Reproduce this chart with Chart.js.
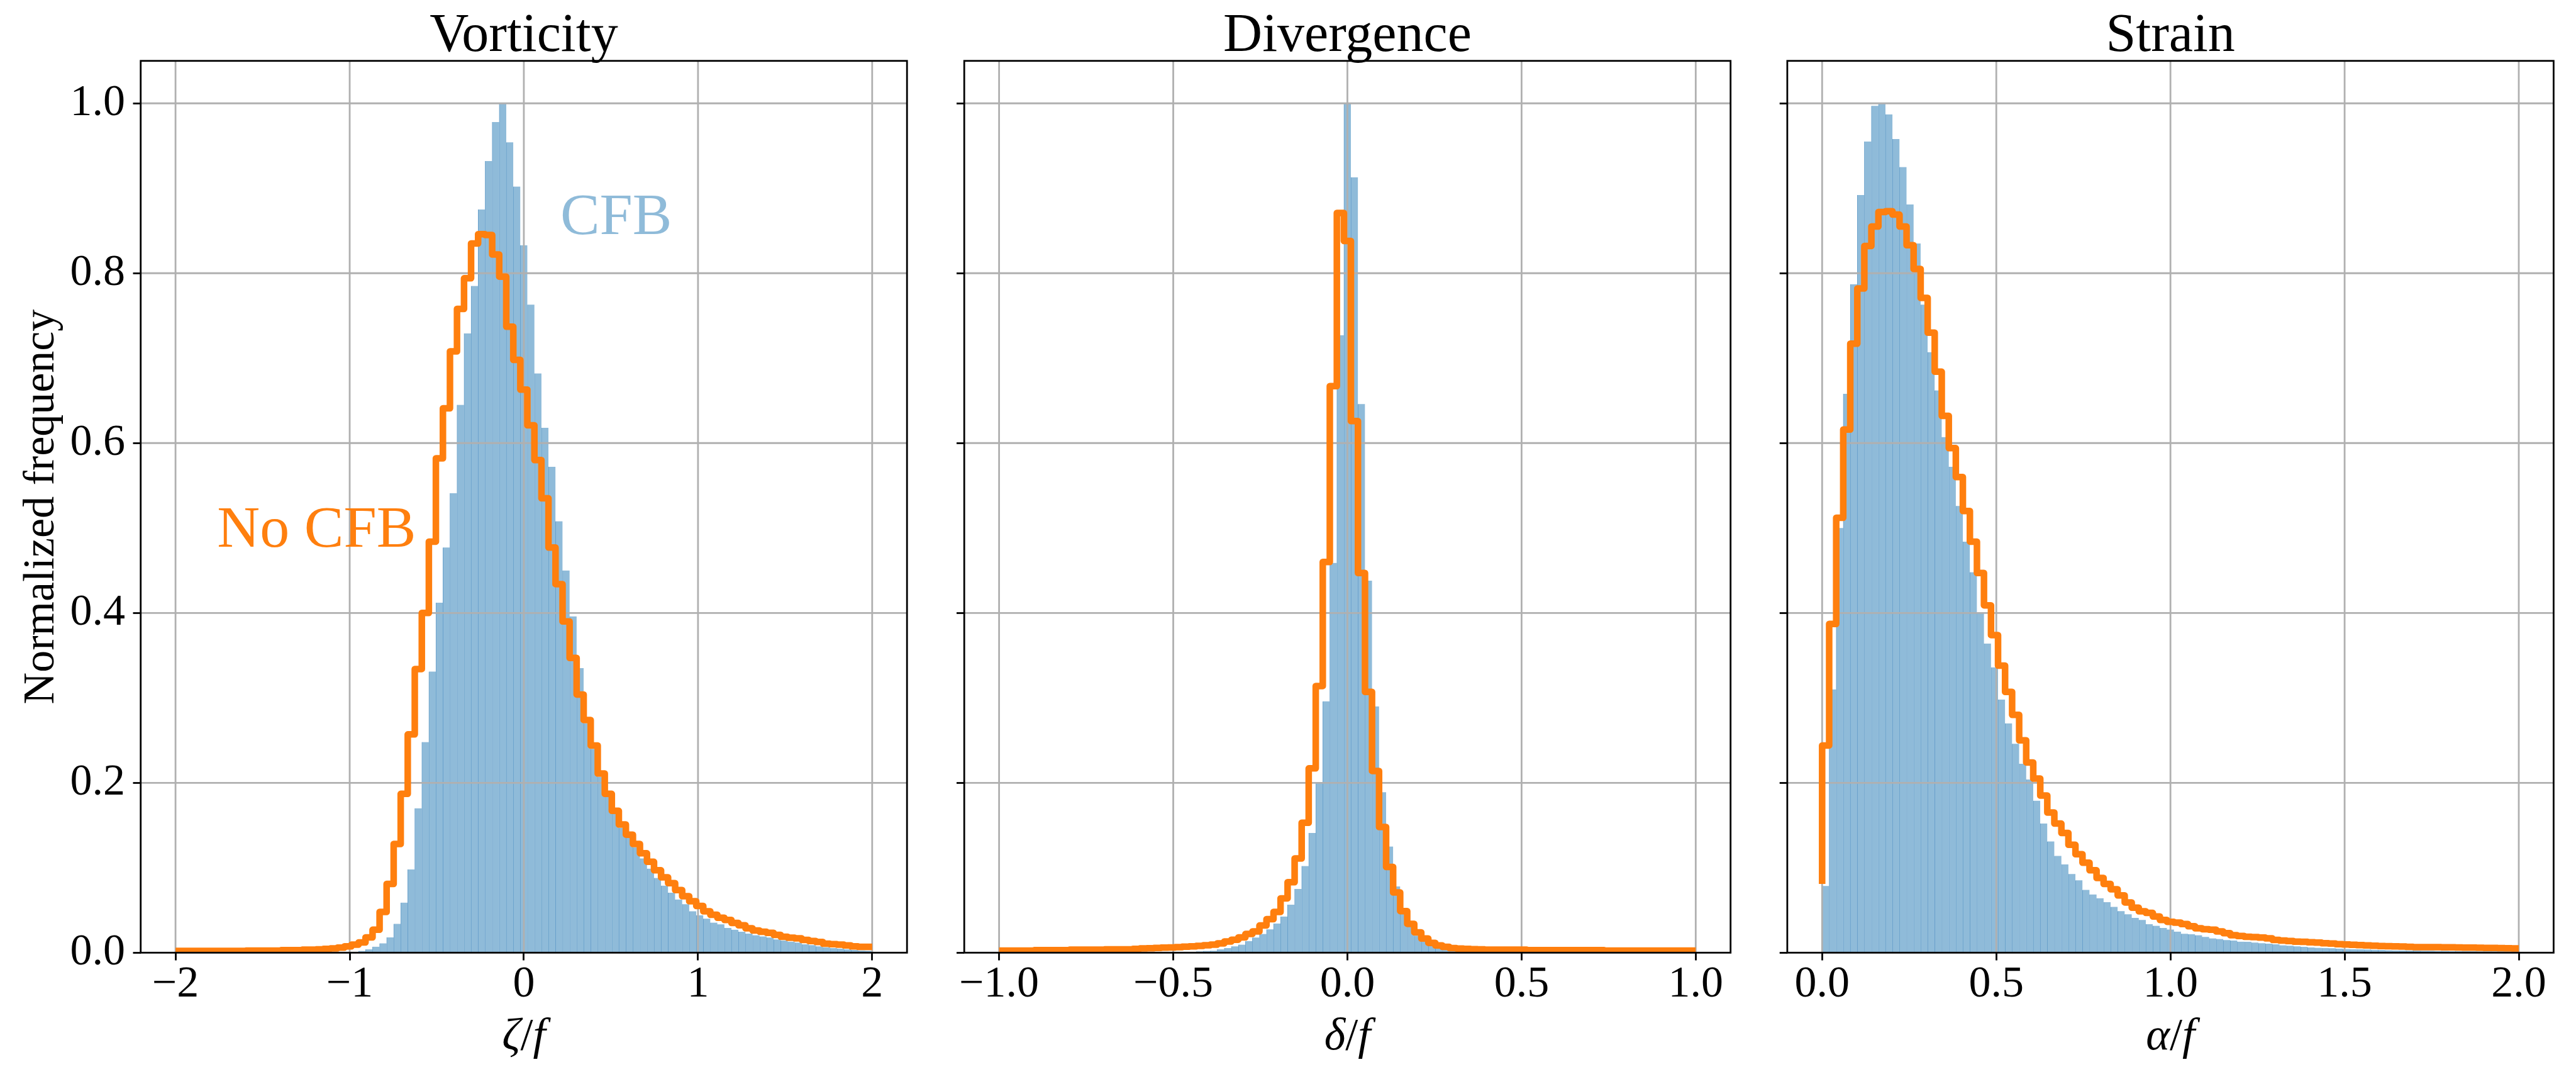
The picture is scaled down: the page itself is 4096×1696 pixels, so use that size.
<!DOCTYPE html>
<html>
<head>
<meta charset="utf-8">
<title>Vorticity, divergence and strain histograms</title>
<script src="https://cdn.jsdelivr.net/npm/chart.js@4.4.1/dist/chart.umd.min.js"></script>
<style>
  html, body { margin: 0; padding: 0; background: #fff; }
  #fig { position: relative; width: 4096px; height: 1696px; overflow: hidden; background: #fff; }
  #fig canvas { position: absolute; top: 0; }
</style>
</head>
<body>
<div id="fig">
  <canvas id="vort" width="1447" height="1696" style="left:0px"></canvas>
  <canvas id="div" width="1263" height="1696" style="left:1493px"></canvas>
  <canvas id="strain" width="1263" height="1696" style="left:2802px"></canvas>
</div>
<script>
// ---- data -----------------------------------------------------------------
// every panel uses 99 equal bins between the range limits
const nBins = 99;

const vortRange = [-2, 2];
const divRange = [-1, 1];
const strainRange = [0, 2];

const yTicks = [0, 0.2, 0.4, 0.6, 0.8, 1.0];
const yTickLabels = ['0.0', '0.2', '0.4', '0.6', '0.8', '1.0'];

const vortTicks = [-2, -1, 0, 1, 2];
const vortTickLabels = ['\u22122', '\u22121', '0', '1', '2'];
const divTicks = [-1, -0.5, 0, 0.5, 1];
const divTickLabels = ['\u22121.0', '\u22120.5', '0.0', '0.5', '1.0'];
const strainTicks = [0, 0.5, 1, 1.5, 2];
const strainTickLabels = ['0.0', '0.5', '1.0', '1.5', '2.0'];

// CFB run: one value per bin
const vortCfb = [
  0, 0, 0, 0, 0, 0, 0, 0, 0, 0, 0, 0, 0, 0, 0, 0, 0, 0, 0, 0, 0, 0, 0, 0,
  0.0005, 0.001, 0.002, 0.004, 0.007, 0.011, 0.018, 0.034, 0.059, 0.098,
  0.170, 0.248, 0.331, 0.412, 0.477, 0.541, 0.645, 0.729, 0.785, 0.875,
  0.932, 0.978, 1.000, 0.954, 0.902, 0.833, 0.763, 0.682, 0.618, 0.572,
  0.508, 0.450, 0.396, 0.335, 0.270, 0.240, 0.207, 0.184, 0.164, 0.147,
  0.137, 0.124, 0.111, 0.099, 0.088, 0.079, 0.0706, 0.0627, 0.0571, 0.0488,
  0.0441, 0.0401, 0.0354, 0.0333, 0.0292, 0.0271, 0.0246, 0.0225, 0.0205, 0.0192,
  0.0178, 0.0155, 0.0143, 0.0130, 0.0118, 0.0099, 0.0089, 0.0074, 0.0064, 0.0054,
  0.0048, 0.0039, 0.0031, 0.0027, 0.0023
];
const divCfb = [
  0, 0, 0, 0, 0, 0, 0, 0, 0, 0, 0, 0, 0, 0, 0, 0, 0, 0, 0, 0, 0, 0, 0, 0, 0, 0,
  0.0008, 0.001, 0.0015, 0.002, 0.0023, 0.0039, 0.0054, 0.0074, 0.0095, 0.0137,
  0.0178, 0.022, 0.0275, 0.0343, 0.0426, 0.0565, 0.075, 0.102, 0.141, 0.2005,
  0.296, 0.459, 0.727, 1.000, 0.913, 0.646, 0.438, 0.290, 0.189, 0.125,
  0.078, 0.049, 0.031, 0.020, 0.014, 0.009, 0.006, 0.004, 0.003, 0.002,
  0.0015, 0.0012, 0.001, 0.0008, 0.0005, 0.0005, 0.0005,
  0, 0, 0, 0, 0, 0, 0, 0, 0, 0, 0, 0, 0, 0, 0, 0, 0, 0, 0, 0, 0, 0, 0, 0, 0, 0
];
const strainCfb = [
  0.0786, 0.310, 0.500, 0.658, 0.787, 0.892, 0.955, 0.997, 1.000, 0.987,
  0.958, 0.925, 0.881, 0.835, 0.763, 0.707, 0.662, 0.607, 0.572, 0.526,
  0.484, 0.448, 0.400, 0.364, 0.336, 0.298, 0.270, 0.246, 0.2225, 0.204,
  0.179, 0.152, 0.131, 0.114, 0.104, 0.0926, 0.0853, 0.0740, 0.0686, 0.0642,
  0.0595, 0.0540, 0.0490, 0.0453, 0.0410, 0.0385, 0.0335, 0.0317, 0.0292, 0.0273,
  0.0248, 0.0223, 0.0217, 0.0205, 0.0186, 0.0168, 0.0161, 0.0149, 0.0143, 0.0130,
  0.0128, 0.0118, 0.0112, 0.0106, 0.0099, 0.0087, 0.0081, 0.0074, 0.0068, 0.0062,
  0.0058, 0.0056, 0.0052, 0.0048, 0.0043, 0.0041, 0.0039, 0.0037, 0.0033, 0.0031,
  0.0029, 0.0027, 0.0026, 0.0025, 0.0024, 0.0023, 0.0022, 0.0021, 0.0020, 0.0019,
  0.0018, 0.0018, 0.0017, 0.0016, 0.0016, 0.0015, 0.0015, 0.0014, 0.0014
];

// No-CFB run: step outline, one value per bin edge (the first is where the line starts)
const vortNoCfb = [
  0.002,
  0.002, 0.002, 0.002, 0.002, 0.002, 0.002, 0.002, 0.002, 0.002, 0.002,
  0.0025, 0.0025, 0.0025, 0.0025, 0.0025, 0.003, 0.003, 0.003, 0.0035, 0.0035,
  0.004, 0.0045, 0.005, 0.006, 0.0075, 0.0095, 0.012, 0.018, 0.027, 0.048,
  0.081, 0.128, 0.187, 0.257, 0.334, 0.400, 0.484, 0.582, 0.641, 0.708,
  0.758, 0.794, 0.835, 0.846, 0.845, 0.822, 0.796, 0.737, 0.698, 0.663,
  0.621, 0.580, 0.535, 0.477, 0.434, 0.390, 0.347, 0.304, 0.274, 0.244,
  0.211, 0.187, 0.167, 0.151, 0.139, 0.128, 0.117, 0.107, 0.097, 0.0887,
  0.0819, 0.0737, 0.0665, 0.0606, 0.055, 0.0488, 0.0447, 0.0412, 0.0385, 0.035,
  0.0323, 0.0288, 0.0261, 0.0246, 0.0234, 0.0209, 0.0188, 0.0176, 0.0168, 0.0151,
  0.0137, 0.0126, 0.0106, 0.0101, 0.0095, 0.0085, 0.0074, 0.0068, 0.0068
];
const divNoCfb = [
  0.0025,
  0.0025, 0.0025, 0.0025, 0.0025, 0.0025, 0.003, 0.003, 0.003, 0.003, 0.003,
  0.0035, 0.0035, 0.0035, 0.0035, 0.0035, 0.004, 0.004, 0.004, 0.004,
  0.0045, 0.005, 0.0052, 0.0055, 0.006, 0.0062, 0.0065, 0.007, 0.0075, 0.008,
  0.0088, 0.0095, 0.011, 0.0132, 0.0153, 0.018, 0.022, 0.025, 0.032, 0.0395,
  0.048, 0.064, 0.083, 0.111, 0.153, 0.217, 0.314, 0.460, 0.667, 0.871,
  0.838, 0.626, 0.447, 0.307, 0.214, 0.148, 0.101, 0.071, 0.049, 0.034,
  0.024, 0.0167, 0.0116, 0.0085, 0.0068, 0.0054, 0.0048, 0.0045, 0.0042, 0.004,
  0.0035, 0.0035, 0.0035, 0.0035, 0.0035, 0.0035,
  0.003, 0.003, 0.003, 0.003, 0.003, 0.003, 0.003, 0.003, 0.003, 0.003, 0.003,
  0.0025, 0.0025, 0.0025, 0.0025, 0.0025, 0.0025, 0.0025, 0.0025, 0.0025, 0.0025, 0.0025, 0.0025, 0.0025
];
const strainNoCfb = [
  0.081,
  0.244, 0.387, 0.512, 0.616, 0.717, 0.782, 0.832, 0.855, 0.872, 0.873,
  0.869, 0.855, 0.833, 0.805, 0.771, 0.730, 0.684, 0.632, 0.594, 0.560,
  0.520, 0.484, 0.447, 0.409, 0.374, 0.338, 0.307, 0.280, 0.250, 0.224,
  0.205, 0.185, 0.165, 0.152, 0.141, 0.127, 0.116, 0.106, 0.097, 0.088,
  0.081, 0.0747, 0.0675, 0.0592, 0.0530, 0.0488, 0.0468, 0.0426, 0.0385, 0.0364,
  0.0354, 0.0337, 0.0312, 0.0288, 0.0277, 0.0271, 0.0250, 0.0230, 0.0205, 0.0197,
  0.0188, 0.0184, 0.0178, 0.0168, 0.0151, 0.0143, 0.0137, 0.0130, 0.0128, 0.0122,
  0.0118, 0.0112, 0.0108, 0.0101, 0.0097, 0.0093, 0.0089, 0.0085, 0.0081, 0.0079,
  0.0077, 0.0074, 0.0072, 0.0068, 0.0066, 0.0066, 0.0066, 0.0065, 0.0064, 0.0063,
  0.0062, 0.0060, 0.0059, 0.0058, 0.0056, 0.0055, 0.0054, 0.0052, 0.0050
];

// ---- look -----------------------------------------------------------------
const FONT = '"Liberation Serif", "Times New Roman", serif';
const CANVAS_H = 1696;
const AX_TOP = 96.75;        // top of every plot box
const AX_BOTTOM = 1514.3;    // y = 0
const LW = 2.8;              // spines, ticks, grid
const TICK_LEN = 12.2;
const TITLE_BASE = 81;
const XLABEL_BASE = 1668;
const BAR_FILL = 'rgb(143,187,217)';
const BAR_SEAM = 'rgb(104,160,203)';
const ORANGE = '#ff7f0e';

function binEdges(lo, hi, n) {
  const w = (hi - lo) / n;
  const out = [];
  for (let i = 0; i <= n; i++) out.push(lo + i * w);
  return out;
}

// titles, axis labels, annotations, grid and spines
const panelText = {
  vort: {
    title: 'Vorticity',
    xLabel: [{ t: '\u03b6', it: true }, { t: '/', it: false }, { t: 'f', it: true }],
    yLabel: 'Normalized frequency',
    notes: [
      { text: 'CFB', x: 0.53, y: 0.846, color: 'rgba(31,119,180,0.5)' },
      { text: 'No CFB', x: -1.19, y: 0.478, color: ORANGE }
    ]
  },
  div: {
    title: 'Divergence',
    xLabel: [{ t: '\u03b4', it: true }, { t: '/', it: false }, { t: 'f', it: true }]
  },
  strain: {
    title: 'Strain',
    xLabel: [{ t: '\u03b1', it: true }, { t: '/', it: false }, { t: 'f', it: true }]
  }
};

const decor = {
  id: 'decor',
  afterDatasetDraw(chart, args) {
    if (args.meta.type !== 'bar') return;
    // grid goes over the bars but under the step outline
    const { ctx, chartArea: a, scales: { x, y } } = chart;
    ctx.save();
    ctx.beginPath();
    ctx.rect(a.left, a.top, a.right - a.left, a.bottom - a.top);
    ctx.clip();
    ctx.strokeStyle = '#b0b0b0';
    ctx.lineWidth = LW;
    ctx.beginPath();
    x.ticks.forEach(t => {
      const px = x.getPixelForValue(t.value);
      ctx.moveTo(px, a.top); ctx.lineTo(px, a.bottom);
    });
    y.ticks.forEach(t => {
      const py = y.getPixelForValue(t.value);
      ctx.moveTo(a.left, py); ctx.lineTo(a.right, py);
    });
    ctx.stroke();
    ctx.restore();
  },
  afterDraw(chart) {
    const { ctx, chartArea: a, scales: { x, y } } = chart;
    const p = panelText[chart.canvas.id];
    const cx = (a.left + a.right) / 2;
    ctx.save();
    ctx.strokeStyle = '#000';
    ctx.lineWidth = LW;
    ctx.strokeRect(a.left, a.top, a.right - a.left, a.bottom - a.top);

    ctx.fillStyle = '#000';
    ctx.textBaseline = 'alphabetic';
    ctx.textAlign = 'center';
    ctx.font = '86px ' + FONT;
    ctx.fillText(p.title, cx, TITLE_BASE);

    // x label: italic symbols around an upright slash
    const fonts = p.xLabel.map(s => (s.it ? 'italic ' : '') + '72px ' + FONT);
    const widths = p.xLabel.map((s, i) => { ctx.font = fonts[i]; return ctx.measureText(s.t).width; });
    let lx = cx - widths.reduce((m, w) => m + w, 0) / 2;
    ctx.textAlign = 'left';
    p.xLabel.forEach((s, i) => { ctx.font = fonts[i]; ctx.fillText(s.t, lx, XLABEL_BASE); lx += widths[i]; });

    if (p.yLabel) {
      ctx.save();
      ctx.translate(85, (a.top + a.bottom) / 2);
      ctx.rotate(-Math.PI / 2);
      ctx.textAlign = 'center';
      ctx.font = '70px ' + FONT;
      ctx.fillText(p.yLabel, 0, 0);
      ctx.restore();
    }
    (p.notes || []).forEach(n => {
      ctx.font = '94px ' + FONT;
      ctx.textAlign = 'center';
      ctx.fillStyle = n.color;
      ctx.fillText(n.text, x.getPixelForValue(n.x), y.getPixelForValue(n.y));
    });
    ctx.restore();
  }
};

function makePanel(id, range, cfb, noCfb, ticks, tickLabels, opts) {
  const edges = binEdges(range[0], range[1], nBins);
  const centers = edges.slice(0, -1).map((e, i) => (e + edges[i + 1]) / 2);
  const span = range[1] - range[0];
  const tickFont = { family: FONT, size: 70, lineHeight: 1 };

  return new Chart(document.getElementById(id), {
    type: 'bar',
    data: {
      datasets: [
        {
          type: 'bar',
          label: 'CFB',
          data: centers.map((c, i) => ({ x: c, y: cfb[i] })),
          backgroundColor: BAR_FILL,
          borderColor: BAR_SEAM,
          borderWidth: { left: 1, right: 0, top: 0, bottom: 0 },
          barPercentage: 1,
          categoryPercentage: 1,
          order: 1
        },
        {
          type: 'line',
          label: 'No CFB',
          data: edges.map((e, i) => ({ x: e, y: noCfb[i] })),
          borderColor: ORANGE,
          borderWidth: 10.5,
          borderJoinStyle: 'round',
          stepped: 'after',
          pointRadius: 0,
          fill: false,
          clip: 0,
          order: 0
        }
      ]
    },
    options: {
      responsive: false,
      animation: false,
      events: [],
      layout: { padding: { top: AX_TOP, right: opts.padRight, bottom: 0, left: 0 } },
      plugins: { legend: { display: false }, tooltip: { enabled: false } },
      scales: {
        x: {
          type: 'linear',
          min: range[0] - 0.05 * span,
          max: range[1] + 0.05 * span,
          offset: false,
          afterBuildTicks: s => { s.ticks = ticks.map(v => ({ value: v })); },
          afterFit: s => { s.height = CANVAS_H - AX_BOTTOM; },
          border: { display: false },
          grid: {
            offset: false, drawOnChartArea: false,
            tickLength: TICK_LEN, tickWidth: LW, tickColor: '#000'
          },
          ticks: {
            callback: (v, i) => tickLabels[i],
            font: tickFont, color: '#000', padding: 4.6,
            autoSkip: false, maxRotation: 0, minRotation: 0
          }
        },
        y: {
          type: 'linear',
          position: 'left',
          min: 0,
          max: 1.05,
          afterBuildTicks: s => { s.ticks = yTicks.map(v => ({ value: v })); },
          afterFit: s => { s.width = opts.yAxisWidth; },
          border: { display: false },
          grid: {
            drawOnChartArea: false,
            tickLength: TICK_LEN, tickWidth: LW, tickColor: '#000'
          },
          ticks: {
            display: opts.yLabels,
            callback: (v, i) => yTickLabels[i],
            font: tickFont, color: '#000', padding: 12.5
          }
        }
      }
    },
    plugins: [decor]
  });
}

makePanel('vort', vortRange, vortCfb, vortNoCfb, vortTicks, vortTickLabels,
  { yAxisWidth: 223.7, padRight: 4.8, yLabels: true });
makePanel('div', divRange, divCfb, divNoCfb, divTicks, divTickLabels,
  { yAxisWidth: 40.2, padRight: 4.3, yLabels: false });
makePanel('strain', strainRange, strainCfb, strainNoCfb, strainTicks, strainTickLabels,
  { yAxisWidth: 39.9, padRight: 4.6, yLabels: false });
</script>
</body>
</html>
